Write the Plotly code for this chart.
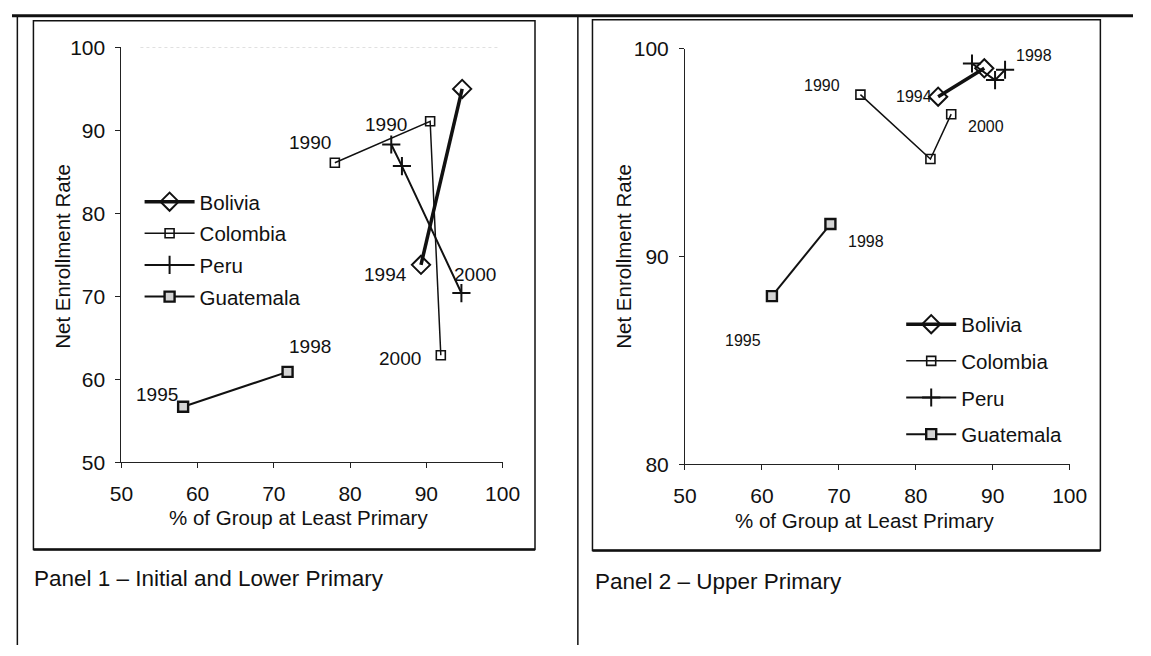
import plotly.graph_objects as go

# ---- data: panel 1 (initial and lower primary) ----
p1_bolivia_x = [89.3, 94.7]
p1_bolivia_y = [73.8, 95.0]
p1_bolivia_lbl = ["1994", ""]

p1_colombia_x = [78.0, 90.5, 91.9]
p1_colombia_y = [86.1, 91.1, 62.9]
p1_colombia_lbl = ["1990", "", "2000"]

p1_peru_x = [85.4, 86.8, 94.6]
p1_peru_y = [88.3, 85.7, 70.4]
p1_peru_lbl = ["1990", "", "2000"]

p1_guatemala_x = [58.1, 71.8]
p1_guatemala_y = [56.7, 60.9]
p1_guatemala_lbl = ["1995", "1998"]

# ---- data: panel 2 (upper primary) ----
p2_bolivia_x = [82.9, 88.9]
p2_bolivia_y = [97.7, 99.07]
p2_bolivia_lbl = ["1994", "1998"]

p2_colombia_x = [72.8, 81.9, 84.6]
p2_colombia_y = [97.8, 94.7, 96.86]
p2_colombia_lbl = ["1990", "", "2000"]

p2_peru_x = [87.3, 90.3, 91.6]
p2_peru_y = [99.3, 98.5, 99.0]
p2_peru_lbl = ["", "", ""]

p2_guatemala_x = [61.3, 68.9]
p2_guatemala_y = [88.1, 91.57]
p2_guatemala_lbl = ["1995", "1998"]

countries = ["Bolivia", "Colombia", "Peru", "Guatemala"]
x_ticks = [50, 60, 70, 80, 90, 100]
p1_y_ticks = [50, 60, 70, 80, 90, 100]
p2_y_ticks = [80, 90, 100]

x_title = "% of Group at Least Primary"
y_title = "Net Enrollment Rate"
panel_titles = ["Panel 1 \u2013 Initial and Lower Primary", "Panel 2 \u2013 Upper Primary"]

# ---- styling ----
FONT = "Liberation Sans, Arial, sans-serif"
INK = "#111111"

styles = {
    "Bolivia": dict(line=dict(color=INK, width=3.5),
                    marker=dict(symbol="diamond-open", size=14, color=INK, line=dict(width=2))),
    "Colombia": dict(line=dict(color=INK, width=1.5),
                     marker=dict(symbol="square-open", size=9, color=INK, line=dict(width=1.6))),
    "Peru": dict(line=dict(color=INK, width=2),
                 marker=dict(symbol="cross-thin", size=13, color=INK, line=dict(width=2, color=INK))),
    "Guatemala": dict(line=dict(color=INK, width=2),
                      marker=dict(symbol="square", size=10, color="#d4d4d4",
                                  line=dict(width=2.4, color=INK))),
}

# label offsets in px (xshift, yshift) for each labelled point
p1_offsets = {
    "Bolivia": [(-35, -10), None],
    "Colombia": [(-25, 20), None, (-41, -3)],
    "Peru": [(-5, 20), None, (14, 19)],
    "Guatemala": [(-26, 12), (22, 25)],
}
p2_offsets = {
    "Bolivia": [(-24, 0), (50, 13)],
    "Colombia": [(-38, 9), None, (35, -12)],
    "Peru": [None, None, None],
    "Guatemala": [(-29, -44), (36, -17)],
}

panel1 = {
    "Bolivia": (p1_bolivia_x, p1_bolivia_y, p1_bolivia_lbl),
    "Colombia": (p1_colombia_x, p1_colombia_y, p1_colombia_lbl),
    "Peru": (p1_peru_x, p1_peru_y, p1_peru_lbl),
    "Guatemala": (p1_guatemala_x, p1_guatemala_y, p1_guatemala_lbl),
}
panel2 = {
    "Bolivia": (p2_bolivia_x, p2_bolivia_y, p2_bolivia_lbl),
    "Colombia": (p2_colombia_x, p2_colombia_y, p2_colombia_lbl),
    "Peru": (p2_peru_x, p2_peru_y, p2_peru_lbl),
    "Guatemala": (p2_guatemala_x, p2_guatemala_y, p2_guatemala_lbl),
}

fig = go.Figure()
annotations = []

def add_panel(data, offsets, xa, ya, legend, label_size):
    for name in countries:
        xs, ys, lbls = data[name]
        st = styles[name]
        fig.add_trace(go.Scatter(
            x=xs, y=ys, mode="lines+markers", name=name,
            line=st["line"], marker=st["marker"],
            xaxis=xa, yaxis=ya, legend=legend, legendgroup=legend + name,
            hoverinfo="skip",
        ))
        for xv, yv, txt, off in zip(xs, ys, lbls, offsets[name]):
            if txt and off:
                annotations.append(dict(
                    x=xv, y=yv, xref=xa, yref=ya, text=txt, showarrow=False,
                    xanchor="center", yanchor="middle",
                    xshift=off[0], yshift=off[1],
                    font=dict(family=FONT, size=label_size, color=INK),
                ))

add_panel(panel1, p1_offsets, "x", "y", "legend", 19)
add_panel(panel2, p2_offsets, "x2", "y2", "legend2", 16)

axis_common = dict(
    showgrid=False, zeroline=False, showline=True, linecolor="#222", linewidth=1,
    ticks="outside", ticklen=5, tickcolor="#222",
    tickfont=dict(family=FONT, size=21, color=INK), fixedrange=True,
)

W, H = 1151, 656
def px(v):
    return v / W
def py(v):
    return 1 - v / H

legend_font = dict(family=FONT, size=20.5, color=INK)
fig.update_layout(
    width=W, height=H, margin=dict(l=0, r=0, t=0, b=0),
    paper_bgcolor="white", plot_bgcolor="white",
    showlegend=True,
    xaxis=dict(axis_common, domain=[px(112.3), px(503.7)], range=[50, 100],
               tickvals=x_ticks, anchor="y", ticklabelstandoff=7),
    yaxis=dict(axis_common, domain=[py(466.7), py(36.7)], range=[50, 100],
               tickvals=p1_y_ticks, anchor="x", ticklabelstandoff=6),
    xaxis2=dict(axis_common, domain=[px(691), px(1086)], range=[50, 100],
                tickvals=x_ticks, anchor="y2", ticklabelstandoff=7),
    yaxis2=dict(axis_common, domain=[py(468.8), py(38.3)], range=[80, 100],
                tickvals=p2_y_ticks, anchor="x2", ticklabelstandoff=6),
    legend=dict(x=px(131), y=py(176), xanchor="left", yanchor="top",
                font=legend_font, bgcolor="rgba(0,0,0,0)",
                itemwidth=50, tracegroupgap=2, traceorder="grouped"),
    legend2=dict(x=px(913), y=py(303), xanchor="left", yanchor="top",
                 font=legend_font, bgcolor="rgba(0,0,0,0)",
                 itemwidth=50, tracegroupgap=7, traceorder="grouped"),
)

# axis titles and panel captions
title_font = dict(family=FONT, size=20.5, color=INK)
caption_font = dict(family=FONT, size=22.5, color=INK)

def paper_text(x, y, text, font, xanchor="center", angle=0):
    return dict(x=px(x), y=py(y), xref="paper", yref="paper", text=text,
                showarrow=False, xanchor=xanchor, yanchor="middle",
                textangle=angle, font=font)

annotations += [
    paper_text(294, 524, x_title, title_font),
    paper_text(875, 527, x_title, title_font),
    paper_text(51, 253, y_title, title_font, angle=-90),
    paper_text(627, 253, y_title, title_font, angle=-90),
    paper_text(21, 587, panel_titles[0], caption_font, xanchor="left"),
    paper_text(597, 590, panel_titles[1], caption_font, xanchor="left"),
]
fig.update_layout(annotations=annotations)

# page frame, chart boxes and the faint top gridline of panel 1
frame = dict(color="#111", width=1.5)
shapes = [
    dict(type="line", xref="paper", yref="paper", x0=0, x1=1, y0=py(4), y1=py(4),
         line=dict(color="#111", width=3)),
    dict(type="line", xref="paper", yref="paper", x0=px(5.5), x1=px(5.5), y0=py(4), y1=0,
         line=frame),
    dict(type="line", xref="paper", yref="paper", x0=px(581), x1=px(581), y0=py(4), y1=0,
         line=frame),
    dict(type="rect", xref="paper", yref="paper", x0=px(22), x1=px(537), y0=py(557), y1=py(9),
         line=frame),
    dict(type="line", xref="paper", yref="paper", x0=px(22), x1=px(537), y0=py(557), y1=py(557),
         line=dict(color="#111", width=2.5)),
    dict(type="rect", xref="paper", yref="paper", x0=px(596), x1=px(1117.5), y0=py(558), y1=py(8),
         line=frame),
    dict(type="line", xref="paper", yref="paper", x0=px(596), x1=px(1117.5), y0=py(558), y1=py(558),
         line=dict(color="#111", width=2.5)),
    dict(type="line", xref="x domain", yref="y", x0=0.05, x1=0.99, y0=100, y1=100,
         line=dict(color="#bbbbbb", width=1, dash="dot")),
]
fig.update_layout(shapes=shapes)

# the figure is laid out at a fixed size, so the page itself should add no margin
fig.write_html(
    "out.html",
    post_script="document.body.style.margin='0';document.body.style.overflow='hidden';",
)
